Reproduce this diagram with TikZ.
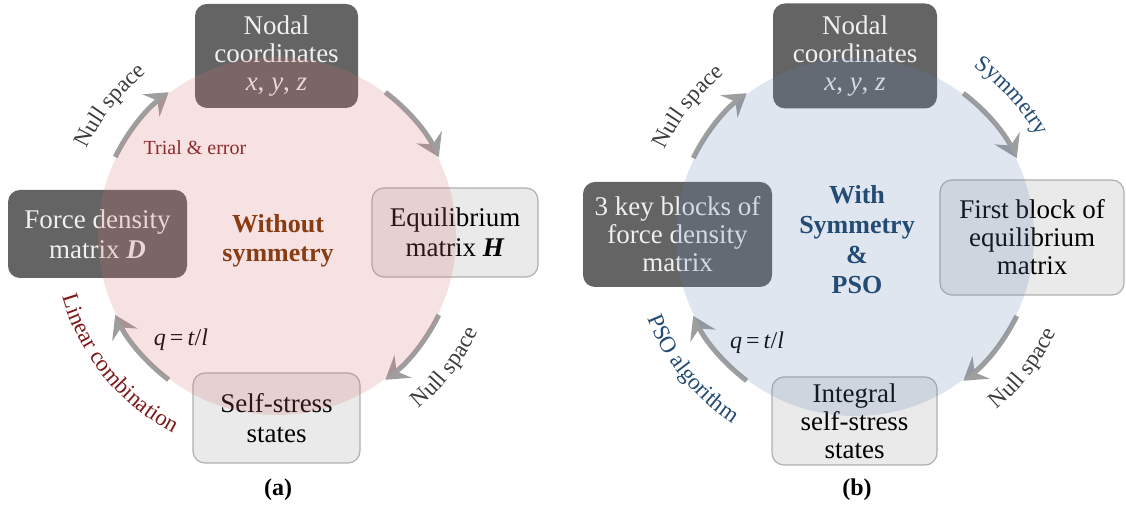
\documentclass[tikz,border=0pt]{standalone}
\usepackage{fontspec}
\setmainfont{Liberation Serif}
\usetikzlibrary{arrows.meta,calc,decorations.text}
\definecolor{darkbox}{RGB}{100,100,100}
\definecolor{lightbox}{RGB}{234,234,234}
\definecolor{lightborder}{RGB}{175,175,175}
\definecolor{arrowgray}{RGB}{158,158,158}
\definecolor{pinkc}{RGB}{215,110,115}
\definecolor{bluec}{RGB}{95,130,175}
\definecolor{darkred}{RGB}{125,25,25}
\definecolor{brownc}{RGB}{135,60,20}
\definecolor{navyc}{RGB}{35,75,115}
\definecolor{labgray}{RGB}{60,60,60}
\definecolor{boxtext}{RGB}{240,240,240}
\begin{document}
\begin{tikzpicture}[x=1pt,y=1pt,
  box/.style={rounded corners=12pt, align=center, inner sep=0pt, font=\fontsize{27}{30}\selectfont},
  darkb/.style={box, fill=darkbox, text=boxtext},
  lightb/.style={box, fill=lightbox, draw=lightborder, line width=1.2pt, text=black},
  threeline/.style={font=\fontsize{27}{28}\selectfont},
  arr/.style={draw=arrowgray, line width=5pt, -{Stealth[length=22pt,width=28pt,inset=8pt]}},
  centertext/.style={align=center, font=\fontsize{26}{29}\selectfont\bfseries},
  plainlab/.style={font=\fontsize{24}{24}\selectfont},
  ]
\useasboundingbox (0,0) rectangle (1126,521);
\coordinate (ca) at (277,285);
\coordinate (cb) at (855,284);

% ---------- panel (a) boxes ----------
\node[darkb, threeline, minimum width=163pt, minimum height=104pt] (na) at (276.5,465) {Nodal\\coordinates\\\textit{x}, \textit{y}, \textit{z}};
\node[darkb, minimum width=179pt, minimum height=88pt] (fa) at (97.5,287) {Force density\\matrix \textbf{\textit{D}}};
\node[lightb, minimum width=166pt, minimum height=89pt] (ea) at (455,288.5) {Equilibrium\\matrix \textbf{\textit{H}}};
\node[lightb, minimum width=167pt, minimum height=90pt] (sa) at (276.5,103) {Self-stress\\states};

% ---------- panel (b) boxes ----------
\node[darkb, threeline, minimum width=164pt, minimum height=105pt] (nb) at (855,465) {Nodal\\coordinates\\\textit{x}, \textit{y}, \textit{z}};
\node[darkb, threeline, minimum width=189pt, minimum height=105pt] (kb) at (677.5,286.5) {3 key blocks of\\force density\\matrix};
\node[lightb, threeline, minimum width=184pt, minimum height=115pt] (qb) at (1032,283.5) {First block of\\equilibrium\\matrix};
\node[lightb, threeline, minimum width=165pt, minimum height=88pt] (ib) at (854.5,100) {Integral\\self-stress\\states};

% ---------- arrows (a) ----------
\coordinate (a1) at ($(ca)+(154:180)$);
\coordinate (a2) at ($(ca)+(53:180)$);
\coordinate (a3) at ($(ca)+(-26:180)$);
\coordinate (a4) at ($(ca)+(233:180)$);
\draw[arr] (a1) arc[start angle=154, end angle=127, radius=180];
\draw[arr] (a2) arc[start angle=53, end angle=26, radius=180];
\draw[arr] (a3) arc[start angle=-26, end angle=-53, radius=180];
\draw[arr] (a4) arc[start angle=233, end angle=206, radius=180];

% ---------- arrows (b) ----------
\coordinate (b1) at ($(cb)+(154:180)$);
\coordinate (b2) at ($(cb)+(53:180)$);
\coordinate (b3) at ($(cb)+(-26:180)$);
\coordinate (b4) at ($(cb)+(233:180)$);
\draw[arr] (b1) arc[start angle=154, end angle=127, radius=180];
\draw[arr] (b2) arc[start angle=53, end angle=26, radius=180];
\draw[arr] (b3) arc[start angle=-26, end angle=-53, radius=180];
\draw[arr] (b4) arc[start angle=233, end angle=206, radius=180];

% ---------- curved labels (a) ----------
\path[decorate, decoration={text along path, text align=center,
  text={|\fontsize{23}{23}\selectfont\color{labgray}|Null space}}]
  ($(ca)+(166:209)$) arc[start angle=166, end angle=118, radius=209];
\path[decorate, decoration={text along path, text align=center,
  text={|\fontsize{23}{23}\selectfont\color{labgray}|Null space}}]
  ($(ca)+(-64:223)$) arc[start angle=-64, end angle=-12, radius=223];
\path[decorate, decoration={text along path, text align=center,
  text={|\fontsize{23}{23}\selectfont\color{darkred}|Linear combination}}]
  ($(ca)+(186:223)$) arc[start angle=186, end angle=252, radius=223];

% ---------- curved labels (b) ----------
\path[decorate, decoration={text along path, text align=center,
  text={|\fontsize{23}{23}\selectfont\color{labgray}|Null space}}]
  ($(cb)+(166:209)$) arc[start angle=166, end angle=118, radius=209];
\path[decorate, decoration={text along path, text align=center,
  text={|\fontsize{23}{23}\selectfont\color{navyc}|Symmetry}}]
  ($(cb)+(64:208)$) arc[start angle=64, end angle=20, radius=208];
\path[decorate, decoration={text along path, text align=center,
  text={|\fontsize{23}{23}\selectfont\color{labgray}|Null space}}]
  ($(cb)+(-64:223)$) arc[start angle=-64, end angle=-12, radius=223];
\path[decorate, decoration={text along path, text align=center,
  text={|\fontsize{23}{23}\selectfont\color{navyc}|PSO algorithm}}]
  ($(cb)+(186:223)$) arc[start angle=186, end angle=252, radius=223];

% ---------- plain labels ----------
\node[font=\fontsize{20}{20}\selectfont, text=darkred] (te) at (195,373) {Trial \& error};
\node[plainlab] (qa) at (181,181) {\textit{q}\,=\,\textit{t}/\textit{l}};
\node[plainlab] (qb2) at (757,178) {\textit{q}\,=\,\textit{t}/\textit{l}};

% ---------- circles (on top, translucent) ----------
\fill[pinkc, opacity=0.2] (ca) circle[radius=179];
\fill[bluec, opacity=0.2] (cb) circle[radius=179];

% ---------- centre texts ----------
\node[centertext, text=brownc] (ta) at (278,280) {Without\\symmetry};
\node[centertext, text=navyc, font=\fontsize{26}{30}\selectfont\bfseries] (tb) at (857,281) {With\\Symmetry\\\&\\PSO};

% ---------- captions ----------
\node[font=\fontsize{24}{24}\selectfont\bfseries] (capa) at (278,31) {(a)};
\node[font=\fontsize{24}{24}\selectfont\bfseries] (capb) at (857,31) {(b)};
\end{tikzpicture}
\end{document}
